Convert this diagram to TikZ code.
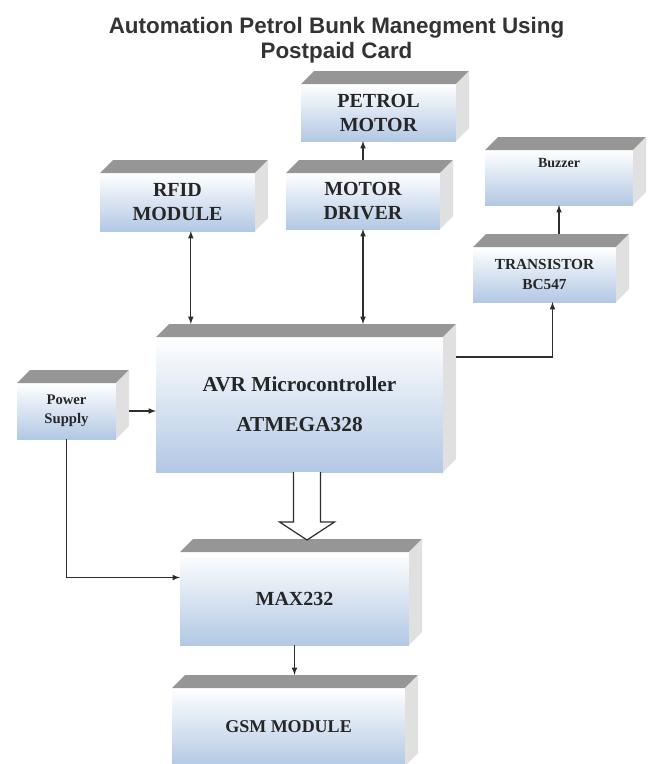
\documentclass[tikz,border=0pt]{standalone}
\usepackage{fontspec}
\setmainfont{Liberation Serif}
\newfontfamily\titlefont{Liberation Sans}
\definecolor{faceblue}{RGB}{178,200,228}
\definecolor{topgray}{RGB}{150,150,150}
\definecolor{sidegray}{RGB}{224,224,224}
\definecolor{wirecol}{RGB}{45,45,45}
\tikzset{
  front/.style={shade, top color=white, bottom color=faceblue, outer sep=0pt, inner sep=0pt, align=center, text=black!85, font=\bfseries\fontsize{15}{18}\selectfont},
  wire/.style={draw=wirecol, line width=0.9pt, -latex},
}
\newcommand{\boxfaces}[1]{%
  \fill[topgray] (#1.north west) -- ([shift={(13,-13)}]#1.north west) -- ([shift={(13,-13)}]#1.north east) -- (#1.north east) -- cycle;
  \fill[sidegray] (#1.north east) -- ([shift={(13,-13)}]#1.north east) -- ([shift={(13,-13)}]#1.south east) -- (#1.south east) -- cycle;
}
\begin{document}
\begin{tikzpicture}[x=0.75pt,y=0.75pt,yscale=-1,xscale=1]
\useasboundingbox (0,0) rectangle (647,764);
% Title
\node[font=\titlefont\bfseries\fontsize{16.8}{19}\selectfont, text=black!80, align=center] (title) at (336.5,40) {Automation Petrol Bunk Manegment Using\\Postpaid Card};
% Blocks
\node[front, minimum width=116.25pt, minimum height=42.75pt] (petrol) at (378.5,112.5) {PETROL\\MOTOR};
\node[front, minimum width=116.25pt, minimum height=43.5pt] (rfid) at (177.5,202) {RFID\\MODULE};
\node[front, minimum width=115.5pt, minimum height=42pt] (driver) at (363,201) {MOTOR\\DRIVER};
\node[front, minimum width=111pt, minimum height=41.25pt] (buzzer) at (559,177.5) {};
\node[front, minimum width=107.25pt, minimum height=41.25pt, font=\bfseries\fontsize{11.5}{15}\selectfont] (trans) at (544.5,274.5) {TRANSISTOR\\BC547};
\node[front, minimum width=215.25pt, minimum height=101.25pt, font=\bfseries\fontsize{16}{19}\selectfont] (avr) at (299.5,404.5) {AVR Microcontroller\\[11pt]ATMEGA328};
\node[front, minimum width=74.25pt, minimum height=42pt, font=\bfseries\fontsize{11}{14}\selectfont] (power) at (66.5,411) {Power\\Supply};
\node[front, minimum width=171.75pt, minimum height=69.75pt] (max) at (294.5,598.5) {MAX232};
\node[front, minimum width=174.75pt, minimum height=58.5pt, font=\bfseries\fontsize{13.5}{16}\selectfont] (gsm) at (288.5,727) {GSM MODULE};
% Text Node
\node[text=black!85, font=\bfseries\fontsize{10.5}{13}\selectfont] (buzzertext) at (559,163) {Buzzer};
% Faces
\boxfaces{petrol}
\boxfaces{rfid}
\boxfaces{driver}
\boxfaces{buzzer}
\boxfaces{trans}
\boxfaces{avr}
\boxfaces{power}
\boxfaces{max}
\boxfaces{gsm}
\coordinate (drivertop) at ([shift={(0,-13)}]driver.north);
\coordinate (avrtop) at ([shift={(0,-13)}]avr.north);
\coordinate (transtop) at ([shift={(0,-13)}]trans.north);
\coordinate (gsmtop) at ([shift={(0,-13)}]gsm.north);
% Connectors
\draw[wire] (drivertop) -- (drivertop |- petrol.south);
\draw[wire, latex-latex] ([xshift=10pt]rfid.south) -- ([xshift=10pt]rfid.south |- avrtop);
\draw[wire, latex-latex] (driver.south) -- (driver.south |- avrtop);
\draw[wire] ([shift={(13,20)}]avr.north east) -| ([xshift=6pt]trans.south);
\draw[wire] (buzzer.south |- transtop) -- (buzzer.south);
\draw[wire] ([xshift=9.75pt]power.east) -- (power.east -| avr.west);
\draw[wire] (power.south) |- ([shift={(0,-21)}]max.west);
\draw[wire] (max.south) -- (max.south |- gsmtop);
% Hollow arrow
\draw[draw=wirecol, fill=white, line width=0.9pt] ([xshift=-4.5pt]avr.south) -- ++(0,50) -- ++(-14,0) -- ++(27.5,18) -- ++(27.5,-18) -- ++(-14,0) -- ++(0,-50);
\end{tikzpicture}
\end{document}
